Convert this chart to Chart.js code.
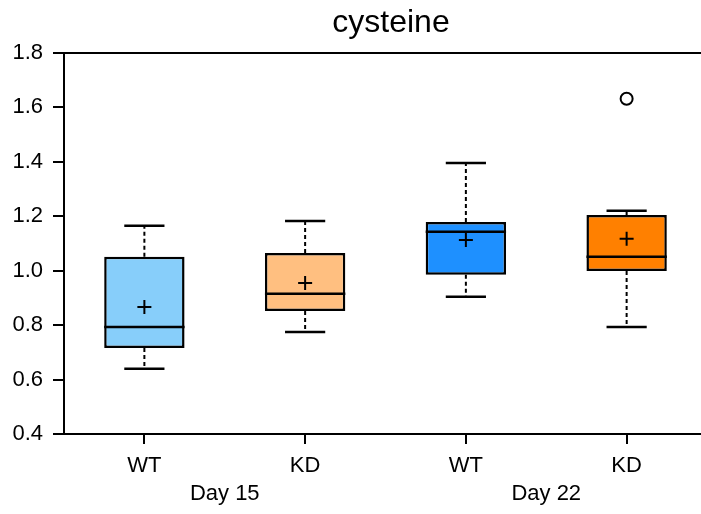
<!DOCTYPE html>
<html>
<head>
<meta charset="utf-8">
<script src="https://cdn.jsdelivr.net/npm/chart.js@4/dist/chart.umd.min.js"></script>
<style>
  html, body { margin: 0; overflow: hidden; background: #fff; }
  #wrap { width: 701px; height: 514px; overflow: hidden; position: relative; }
  #boxChart { position: absolute; left: 0; top: 0; }
</style>
</head>
<body>
<div id="wrap"><canvas id="boxChart" width="708" height="514"></canvas></div>
<script>
const categories = ['WT', 'KD', 'WT', 'KD'];
const groups = ['Day 15', 'Day 22'];
const chartTitle = 'cysteine';
const whiskerLow = [0.64, 0.775, 0.904, 0.793];
const q1Values = [0.716, 0.852, 0.985, 0.999];
const medians = [0.793, 0.915, 1.143, 1.051];
const q3Values = [1.051, 1.065, 1.179, 1.205];
const whiskerHigh = [1.165, 1.183, 1.396, 1.22];
const means = [0.867, 0.955, 1.113, 1.117];
const outliers = [null, null, null, 1.632];
const boxColors = ['#87CEFA', '#FFBF80', '#1E90FF', '#FF8000'];
const yTicks = [0.4, 0.6, 0.8, 1.0, 1.2, 1.4, 1.6, 1.8];

const FONT = 'Liberation Sans, Arial, Helvetica, sans-serif';

// whiskers, caps, medians, title and the group labels under the axis
const boxExtras = {
    id: 'boxExtras',
    afterDatasetsDraw(chart) {
        const ctx = chart.ctx;
        const x = chart.scales.x;
        const y = chart.scales.y;
        const meta = chart.getDatasetMeta(0);
        ctx.save();
        ctx.strokeStyle = '#000';
        meta.data.forEach((bar, i) => {
            const cx = bar.x;
            const half = bar.width / 2;
            const cap = half / 2;
            // dashed whiskers
            ctx.lineWidth = 2;
            ctx.setLineDash([4, 3]);
            ctx.beginPath();
            ctx.moveTo(cx, y.getPixelForValue(q3Values[i]));
            ctx.lineTo(cx, y.getPixelForValue(whiskerHigh[i]));
            ctx.moveTo(cx, y.getPixelForValue(q1Values[i]));
            ctx.lineTo(cx, y.getPixelForValue(whiskerLow[i]));
            ctx.stroke();
            ctx.setLineDash([]);
            // caps
            ctx.lineWidth = 2.5;
            ctx.beginPath();
            ctx.moveTo(cx - cap, y.getPixelForValue(whiskerHigh[i]));
            ctx.lineTo(cx + cap, y.getPixelForValue(whiskerHigh[i]));
            ctx.moveTo(cx - cap, y.getPixelForValue(whiskerLow[i]));
            ctx.lineTo(cx + cap, y.getPixelForValue(whiskerLow[i]));
            ctx.stroke();
            // median
            ctx.beginPath();
            ctx.moveTo(cx - half, y.getPixelForValue(medians[i]));
            ctx.lineTo(cx + half, y.getPixelForValue(medians[i]));
            ctx.stroke();
        });
        // top frame line
        ctx.lineWidth = 2;
        ctx.beginPath();
        ctx.moveTo(chart.chartArea.left, chart.chartArea.top);
        ctx.lineTo(chart.chartArea.right, chart.chartArea.top);
        ctx.stroke();
        // title
        ctx.fillStyle = '#000';
        ctx.textAlign = 'center';
        ctx.textBaseline = 'alphabetic';
        ctx.font = '32px ' + FONT;
        ctx.fillText(chartTitle, 391, 32);
        // group labels
        ctx.font = '22px ' + FONT;
        ctx.textBaseline = 'middle';
        groups.forEach((g, k) => {
            const mid = (x.getPixelForValue(k * 2) + x.getPixelForValue(k * 2 + 1)) / 2;
            ctx.fillText(g, mid, 494);
        });
        ctx.restore();
    }
};

const ctx = document.getElementById('boxChart').getContext('2d');
new Chart(ctx, {
    type: 'bar',
    data: {
        labels: categories,
        datasets: [{
            label: 'box',
            data: q1Values.map((q, i) => [q, q3Values[i]]),
            backgroundColor: boxColors,
            borderColor: '#000',
            borderWidth: 2.5,
            borderSkipped: false,
            barPercentage: 0.5,
            categoryPercentage: 1,
            order: 2
        }, {
            type: 'line',
            label: 'mean',
            data: means,
            showLine: false,
            pointStyle: 'cross',
            pointRadius: 7,
            pointBorderWidth: 2,
            borderColor: '#000',
            backgroundColor: '#000',
            order: 1
        }, {
            type: 'line',
            label: 'outlier',
            data: outliers,
            showLine: false,
            pointStyle: 'circle',
            pointRadius: 6,
            pointBorderWidth: 2,
            borderColor: '#000',
            backgroundColor: '#fff',
            order: 1
        }]
    },
    options: {
        responsive: false,
        animation: false,
        layout: { autoPadding: false, padding: { left: 0, right: 1, top: 53, bottom: 0 } },
        scales: {
            x: {
                grid: { offset: false, drawOnChartArea: false, drawTicks: true, tickLength: 10, color: '#000', lineWidth: 2 },
                border: { display: true, color: '#000', width: 2 },
                ticks: { color: '#000', font: { size: 22, family: FONT }, padding: 9, maxRotation: 0 },
                afterFit(scale) { scale.height = 80; }
            },
            y: {
                min: 0.4,
                max: 1.8,
                afterBuildTicks(scale) { scale.ticks = yTicks.map(v => ({ value: v })); },
                grid: { drawOnChartArea: false, drawTicks: true, tickLength: 11, color: '#000', lineWidth: 2 },
                border: { display: true, color: '#000', width: 2 },
                ticks: { color: '#000', font: { size: 22, family: FONT }, padding: 10, callback: v => v.toFixed(1) },
                afterFit(scale) { scale.width = 64; }
            }
        },
        plugins: {
            legend: { display: false },
            tooltip: { enabled: false },
            title: { display: false }
        }
    },
    plugins: [boxExtras]
});
</script>
</body>
</html>
